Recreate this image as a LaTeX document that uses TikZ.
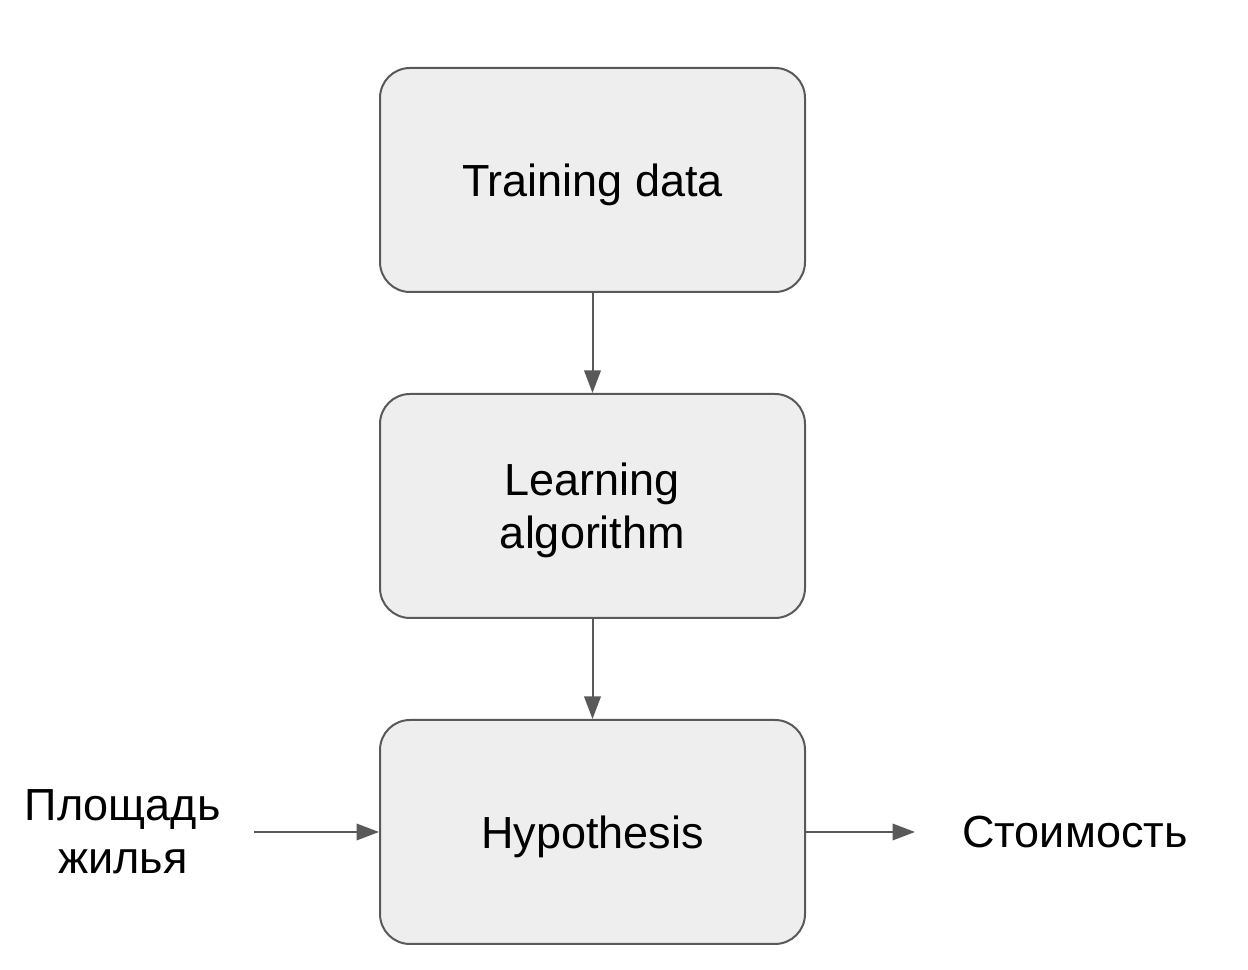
\documentclass[tikz,border=0pt]{standalone}
\usepackage{fontspec}
\setmainfont{Liberation Sans}
\usetikzlibrary{arrows.meta,positioning}
\definecolor{ink}{HTML}{000000}
\definecolor{edge}{HTML}{595959}
\definecolor{boxfill}{HTML}{EEEEEE}

\begin{document}
\begin{tikzpicture}[font=\fontsize{25.6}{30}\selectfont,text=ink,
    box/.style={draw=edge,fill=boxfill,line width=0.04cm,rounded corners=0.6cm,
      minimum width=8.5cm,minimum height=4.48cm,align=center,text depth=0pt},
    flow/.style={draw=edge,line width=0.04cm,-{Triangle[length=0.45cm,width=0.33cm]}},
    >=Latex]
  \useasboundingbox (0,0) rectangle (24.96,19.4);
  \node[box] (train) at (11.85,15.8) {Training data};
  \node[box,below=2.0cm of train] (learn) {Learning\\algorithm};
  \node[box,below=2.0cm of learn] (hypo) {Hypothesis};
  \node[anchor=east,align=center,inner xsep=0.66cm,left=2.5cm of hypo.west] (area) {Площадь\\жилья};
  \node[anchor=west,inner xsep=0.94cm,right=2.18cm of hypo.east] (cost) {Стоимость};

  \draw[flow] (train) -- (learn);
  \draw[flow] (learn) -- (hypo);
  \draw[flow] (area.east) -- (hypo.west);
  \draw[flow] (hypo.east) -- ++(2.18,0);
\end{tikzpicture}
\end{document}
